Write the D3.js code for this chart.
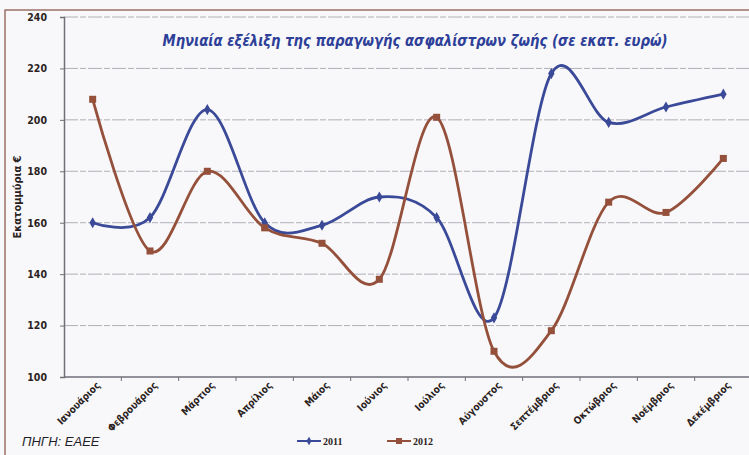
<!DOCTYPE html>
<html>
<head>
<meta charset="utf-8">
<script src="https://cdn.jsdelivr.net/npm/d3@7"></script>
<style>
  body { margin: 0; background: #f8f7f9; }
  svg { display: block; }
</style>
</head>
<body>
<div id="chart"></div>
<script>
// months and values (million euro)
const months = ["Ιανουάριος", "Φεβρουάριος", "Μάρτιος", "Απρίλιος", "Μάιος", "Ιούνιος",
    "Ιούλιος", "Αύγουστος", "Σεπτέμβριος", "Οκτώβριος", "Νοέμβριος", "Δεκέμβριος"];
const values2011 = [160, 162, 204, 160, 159, 170, 162, 123, 218, 199, 205, 210];
const values2012 = [208, 149, 180, 158, 152, 138, 201, 110, 118, 168, 164, 185];
const yTicks = [100, 120, 140, 160, 180, 200, 220, 240];
const seriesNames = ["2011", "2012"];

const width = 749, height = 455;
const margin = { top: 17, right: -3, bottom: 78, left: 64 };
const labelFont = "'Liberation Sans Narrow', 'DejaVu Sans Condensed', sans-serif";

const svg = d3.select("#chart")
    .append("svg")
    .attr("width", width)
    .attr("height", height);

// frame of the newspaper box
svg.append("path")
    .attr("d", "M5," + height + "V10H" + width)
    .attr("fill", "none")
    .attr("stroke", "#9a7266")
    .attr("stroke-width", 1.5);

var x = d3.scalePoint()
    .domain(months)
    .range([margin.left, width - margin.right])
    .padding(0.5);

var y = d3.scaleLinear()
    .domain([100, 240])
    .range([height - margin.bottom, margin.top]);

// grid
svg.append("g")
    .selectAll("line")
    .data(yTicks.slice(1))
    .enter()
    .append("line")
    .attr("x1", margin.left)
    .attr("x2", width)
    .attr("y1", d => y(d))
    .attr("y2", d => y(d))
    .style("stroke", "#b0b0b8")
    .style("stroke-width", 1)
    .style("stroke-dasharray", "14,2,6,2");

// y axis
var yAxis = svg.append("g")
    .attr("transform", "translate(" + margin.left + ",0)")
    .call(d3.axisLeft(y).tickValues(yTicks).tickSize(4).tickPadding(13));
yAxis.select(".domain").attr("stroke", "#6f6f78").attr("stroke-width", 1.5);
yAxis.selectAll(".tick line").attr("stroke", "#6f6f78");
yAxis.selectAll("text")
    .attr("font-family", labelFont)
    .attr("font-weight", "bold")
    .attr("font-size", 10.5)
    .attr("fill", "#2b1f22");

// x axis, ticks between categories
var step = x.step();
var xAxis = svg.append("g")
    .attr("transform", "translate(0," + y(100) + ")");
xAxis.append("line")
    .attr("x1", margin.left)
    .attr("x2", width)
    .attr("stroke", "#6f6f78")
    .attr("stroke-width", 1.5);
xAxis.selectAll(".tk")
    .data(months)
    .enter()
    .append("line")
    .attr("class", "tk")
    .attr("x1", d => x(d) + step / 2)
    .attr("x2", d => x(d) + step / 2)
    .attr("y1", 0)
    .attr("y2", 4)
    .attr("stroke", "#6f6f78");
xAxis.selectAll("text")
    .data(months)
    .enter()
    .append("text")
    .attr("transform", d => "translate(" + (x(d) + 8) + ",9) rotate(-45)")
    .attr("text-anchor", "end")
    .attr("font-family", labelFont)
    .attr("font-weight", "bold")
    .attr("font-size", 10)
    .attr("fill", "#2b1f22")
    .text(d => d);

// y title
svg.append("text")
    .attr("transform", "translate(21,197) rotate(-90)")
    .attr("text-anchor", "middle")
    .attr("font-family", labelFont)
    .attr("font-weight", "bold")
    .attr("font-size", 11)
    .attr("fill", "#2b1f22")
    .text("Εκατομμύρια €");

// title
svg.append("text")
    .attr("x", 415)
    .attr("y", 46)
    .attr("text-anchor", "middle")
    .attr("font-family", "'DejaVu Sans', sans-serif")
    .attr("font-style", "italic")
    .attr("font-weight", "bold")
    .attr("font-size", 15)
    .attr("textLength", 505)
    .attr("lengthAdjust", "spacingAndGlyphs")
    .attr("fill", "#2d3f98")
    .text("Μηνιαία εξέλιξη της παραγωγής ασφαλίστρων ζωής (σε εκατ. ευρώ)");

// lines
var colors = ["#3a4a98", "#94503a"];
var line = d3.line()
    .x((d, i) => x(months[i]))
    .y(d => y(d))
    .curve(d3.curveCatmullRom.alpha(0));

[values2011, values2012].forEach((vals, k) => {
    svg.append("path")
        .datum(vals)
        .attr("d", line)
        .attr("fill", "none")
        .attr("stroke", colors[k])
        .attr("stroke-width", 2.8);
});

// markers
svg.append("g")
    .selectAll("path")
    .data(values2011)
    .enter()
    .append("path")
    .attr("d", d3.symbol(d3.symbolDiamond, 36))
    .attr("transform", (d, i) => "translate(" + x(months[i]) + "," + y(d) + ")")
    .attr("fill", colors[0]);

svg.append("g")
    .selectAll("rect")
    .data(values2012)
    .enter()
    .append("rect")
    .attr("x", (d, i) => x(months[i]) - 3.5)
    .attr("y", d => y(d) - 3.5)
    .attr("width", 7)
    .attr("height", 7)
    .attr("fill", colors[1]);

// legend
var legend = svg.append("g").attr("transform", "translate(297,441)");
seriesNames.forEach((name, k) => {
    var g = legend.append("g").attr("transform", "translate(" + (k * 90) + ",0)");
    g.append("line")
        .attr("x1", 0).attr("x2", 24)
        .attr("stroke", colors[k]).attr("stroke-width", 2);
    if (k == 0) {
        g.append("path")
            .attr("d", d3.symbol(d3.symbolDiamond, 22))
            .attr("transform", "translate(12,0)")
            .attr("fill", colors[k]);
    } else {
        g.append("rect")
            .attr("x", 9).attr("y", -3).attr("width", 6).attr("height", 6)
            .attr("fill", colors[k]);
    }
    g.append("text")
        .attr("x", 26).attr("y", 3.5)
        .attr("font-family", "'Liberation Serif', serif")
        .attr("font-weight", "bold")
        .attr("font-size", 10)
        .attr("fill", "#2b1f22")
        .text(name);
});

// source
svg.append("text")
    .attr("x", 22)
    .attr("y", 446)
    .attr("font-family", "'Liberation Sans', sans-serif")
    .attr("font-style", "italic")
    .attr("font-size", 13)
    .attr("fill", "#1f1f2a")
    .text("ΠΗΓΗ: ΕΑΕΕ");
</script>
</body>
</html>
